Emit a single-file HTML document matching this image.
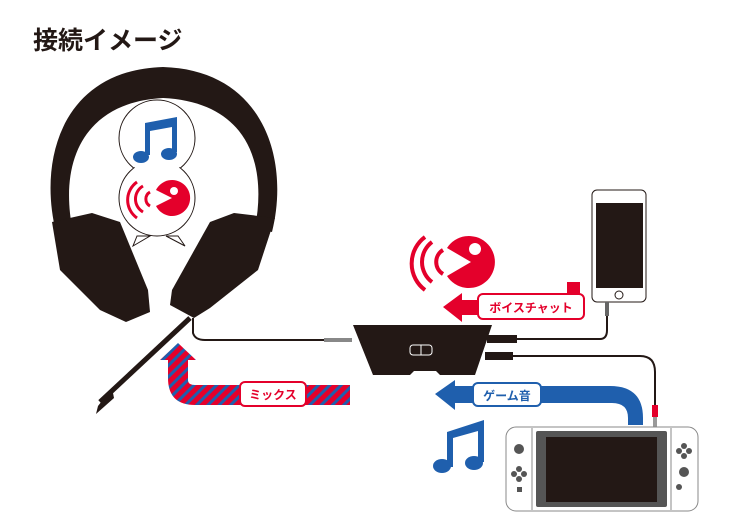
<!DOCTYPE html>
<html><head><meta charset="utf-8"><style>
html,body{margin:0;padding:0;background:#fff;}
svg{display:block}
text{font-family:"Liberation Sans","Noto Sans CJK JP",sans-serif;font-weight:bold}
</style></head><body>
<svg width="750" height="530" viewBox="0 0 750 530" xmlns="http://www.w3.org/2000/svg">
<defs>
<pattern id="st" width="8" height="8" patternUnits="userSpaceOnUse" patternTransform="rotate(45)">
<rect width="8" height="8" fill="#e4002b"/><rect width="3" height="8" fill="#1f5fad"/>
</pattern>
</defs>
<text x="33" y="49" font-size="25" fill="#231815">接続イメージ</text>

<!-- headband -->
<path d="M56,232 C38,160 62,70 163,67 C264,70 290,160 272,232 L255,228 C268,160 245,102 163,98 C85,102 58,160 73,232 Z" fill="#231815"/>
<!-- left cup -->
<path d="M52,222 L92,213 L120,222 L148,290 L150,312 L126,322 L100,310 L60,270 Z" fill="#231815"/>
<!-- right cup -->
<path d="M275,218 L234,213 L210,222 L172,290 L170,305 L194,318 L210,308 L258,270 Z" fill="#231815"/>
<!-- bubble -->
<g fill="#fff" stroke="#231815" stroke-width="1">
<path d="M137,236 L133,246 L150,236 Z"/><path d="M178,236 L185,246 L166,236 Z"/>
<circle cx="157" cy="138" r="38"/><circle cx="157" cy="198" r="38"/>
</g>
<circle cx="157" cy="138" r="37" fill="#fff"/><circle cx="157" cy="198" r="37" fill="#fff"/>
<!-- blue note in bubble -->
<path d="M145,123 L177,117 L177,152 L172,152 L172,127 L150,131 L150,155 L145,155 Z" fill="#1f5fad"/>
<ellipse cx="141" cy="157" rx="8" ry="6" fill="#1f5fad"/><ellipse cx="169" cy="154" rx="8" ry="6" fill="#1f5fad"/>
<!-- small pacman -->
<path d="M172,198 L156,190 A18,18 0 1 1 156,206 Z" fill="#e4002b"/>
<circle cx="174" cy="191" r="4" fill="#fff"/>
<g fill="none" stroke="#e4002b" stroke-width="3">
<path d="M150,192 A8,8 0 0 0 150,206"/><path d="M143,186 A15,15 0 0 0 143,212"/><path d="M137,182 A22,22 0 0 0 137,218"/>
</g>
<!-- mic boom -->
<line x1="190" y1="318" x2="100" y2="402" stroke="#231815" stroke-width="5"/>
<path d="M112,388 L98,406 L96,414 L114,398 Z" fill="#231815"/>
<!-- headset cable -->
<path d="M193,318 L193,333 Q195,340 205,340 L345,340" fill="none" stroke="#231815" stroke-width="2"/>
<rect x="324" y="338" width="28" height="4" fill="#888"/>
<!-- mix arrow -->
<path d="M190,385 L350,385 L350,405 L195,405 Q168,405 168,378 L168,360 L160,360 L178,343 L196,360 L188,360 L188,380 Q188,385 195,385 Z" fill="url(#st)"/>
<rect x="240" y="382" width="66" height="24" rx="5" fill="#fff" stroke="#e4002b" stroke-width="2"/>
<text x="273" y="399" font-size="12" fill="#e4002b" text-anchor="middle">ミックス</text>

<!-- mixer box -->
<path d="M353,325 L492,325 L475,375 L440,375 L436,371 L414,371 L410,375 L373,375 Z" fill="#231815"/>
<rect x="410" y="345" width="22" height="10" rx="3" fill="none" stroke="#fff" stroke-width="1"/>
<line x1="421" y1="345" x2="421" y2="355" stroke="#fff"/>
<rect x="487" y="335" width="30" height="8" fill="#231815"/>
<rect x="485" y="352" width="28" height="8" fill="#231815"/>
<path d="M515,339 L600,339 Q607,339 607,330 L607,305" fill="none" stroke="#231815" stroke-width="2"/>
<path d="M512,356 L640,356 Q655,356 655,372 L655,410" fill="none" stroke="#231815" stroke-width="2"/>
<rect x="652" y="405" width="6" height="12" fill="#e4002b"/>
<rect x="653" y="417" width="4" height="10" fill="#999"/>

<!-- phone -->
<rect x="592" y="190" width="54" height="112" rx="5" fill="#fff" stroke="#231815" stroke-width="1"/>
<rect x="596" y="203" width="47" height="85" fill="#231815"/>
<circle cx="619" cy="295" r="4" fill="none" stroke="#231815"/>
<rect x="605" y="302" width="4" height="14" fill="#666"/>

<!-- big pacman -->
<path d="M471,262 L447,248 A26,26 0 1 1 447,276 Z" fill="#e4002b"/>
<circle cx="475" cy="249" r="6" fill="#fff"/>
<g fill="none" stroke="#e4002b" stroke-width="4">
<path d="M443,250 A14,14 0 0 0 443,274"/><path d="M432,242 A25,25 0 0 0 432,282"/><path d="M425,237 A33,33 0 0 0 425,290"/>
</g>
<!-- voice chat arrow -->
<rect x="567" y="282" width="13" height="14" fill="#e4002b"/>
<path d="M462,300 L580,300 L580,315 L462,315 L462,322 L443,307 L462,293 Z" fill="#e4002b"/>
<rect x="478" y="294" width="106" height="25" rx="5" fill="#fff" stroke="#e4002b" stroke-width="2"/>
<text x="531" y="312" font-size="12" fill="#e4002b" text-anchor="middle">ボイスチャット</text>

<!-- game sound arrow -->
<path d="M455,386 L610,386 Q643,386 643,418 L643,425 L628,425 L628,418 Q628,403 612,403 L455,403 L455,410 L435,394 L455,380 Z" fill="#1f5fad"/>
<rect x="473" y="383" width="68" height="23" rx="5" fill="#fff" stroke="#1f5fad" stroke-width="2"/>
<text x="507" y="400" font-size="12" fill="#1f5fad" text-anchor="middle">ゲーム音</text>

<!-- blue note -->
<path d="M447,432 L484,420 L484,462 L478,462 L478,431 L453,438 L453,467 L447,467 Z" fill="#1f5fad"/>
<ellipse cx="442" cy="466" rx="9" ry="7" fill="#1f5fad"/><ellipse cx="474" cy="463" rx="9" ry="7" fill="#1f5fad"/>

<!-- switch -->
<rect x="506" y="427" width="192" height="84" rx="10" fill="#fff" stroke="#888" stroke-width="1"/>
<rect x="536" y="431" width="131" height="76" rx="2" fill="#555"/>
<rect x="546" y="437" width="111" height="65" fill="#231815"/>
<line x1="532" y1="428" x2="532" y2="510" stroke="#888"/><line x1="671" y1="428" x2="671" y2="510" stroke="#888"/>
<g fill="#555">
<circle cx="519" cy="449" r="5"/><circle cx="519" cy="469" r="3"/><circle cx="514" cy="474" r="3"/><circle cx="524" cy="474" r="3"/><circle cx="519" cy="479" r="3"/><rect x="517" y="487" width="5" height="5"/>
<circle cx="684" cy="446" r="3"/><circle cx="679" cy="451" r="3"/><circle cx="689" cy="451" r="3"/><circle cx="684" cy="456" r="3"/><circle cx="684" cy="472" r="5"/><circle cx="679" cy="487" r="3"/>
</g>
</svg>
</body></html>
